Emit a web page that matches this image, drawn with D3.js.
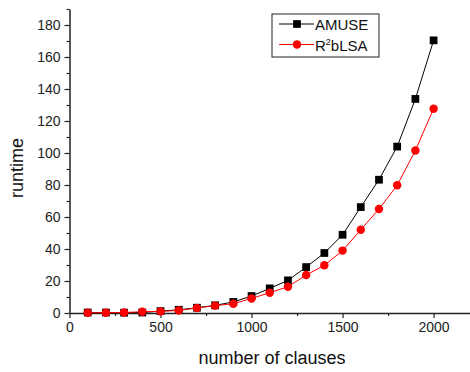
<!DOCTYPE html>
<html>
<head>
<meta charset="utf-8">
<script src="https://cdn.jsdelivr.net/npm/d3@7"></script>
<style>
  body { margin: 0; background: #fff; }
  text { font-family: "Liberation Sans", Arial, sans-serif; }
</style>
</head>
<body>
<div id="chart"></div>
<script>
// data
const clauses = [100, 200, 300, 400, 500, 600, 700, 800, 900, 1000,
                 1100, 1200, 1300, 1400, 1500, 1600, 1700, 1800, 1900, 2000];
const amuse = [0.3, 0.3, 0.2, 0.3, 1.2, 2.0, 3.3, 4.8, 6.9, 10.6,
               15.4, 20.4, 28.7, 37.5, 48.9, 66.2, 83.3, 104, 133.8, 170.4];
const r2blsa = [0.2, 0.2, 0.3, 0.8, 1.0, 1.6, 3.1, 4.6, 5.8, 9.1,
                12.7, 16.4, 23.7, 29.8, 39.0, 52.0, 65.0, 79.8, 101.6, 127.7];
const xTicks = [0, 500, 1000, 1500, 2000];
const yTicks = [0, 20, 40, 60, 80, 100, 120, 140, 160, 180];

const W = 470, H = 372;
const margin = { top: 9, right: 0, bottom: 59, left: 69.5 };
const width = W - margin.left - margin.right;
const height = H - margin.top - margin.bottom;

const svg = d3.select('#chart')
  .append('svg')
  .attr('width', W)
  .attr('height', H);

const g = svg.append('g')
  .attr('transform', `translate(${margin.left},${margin.top})`);

const x = d3.scaleLinear().domain([0, 2200]).range([0, width]);
const y = d3.scaleLinear().domain([0, 190]).range([height, 0]);

// minor ticks first, then major axes
g.append('g')
  .attr('transform', `translate(0,${height})`)
  .call(d3.axisBottom(x).tickValues(d3.range(250, 2200, 500)).tickSize(3).tickFormat(''))
  .call(a => a.select('.domain').remove());
g.append('g')
  .call(d3.axisLeft(y).tickValues(d3.range(10, 191, 20)).tickSize(3).tickFormat(''))
  .call(a => a.select('.domain').remove());

const xAxis = g.append('g')
  .attr('transform', `translate(0,${height})`)
  .call(d3.axisBottom(x).tickValues(xTicks).tickFormat(d3.format('d'))
    .tickSize(5).tickSizeOuter(0).tickPadding(4));
const yAxis = g.append('g')
  .call(d3.axisLeft(y).tickValues(yTicks).tickFormat(d3.format('d'))
    .tickSize(5).tickSizeOuter(0).tickPadding(4));

[xAxis, yAxis].forEach(a => {
  a.select('.domain').attr('stroke', '#222').attr('stroke-width', 1.5);
  a.selectAll('text').style('font-size', '14px').attr('fill', '#222')
    .style('font-family', '"Liberation Sans", Arial, sans-serif');
});
g.selectAll('.tick line').attr('stroke', '#222').attr('stroke-width', 1.2);

// series
const series = [
  { name: 'AMUSE', values: amuse, color: '#000000', shape: 'square' },
  { name: 'R2bLSA', values: r2blsa, color: '#ff0000', shape: 'circle' }
];

const line = d3.line()
  .x((d, i) => x(clauses[i]))
  .y(d => y(d));

series.forEach(s => {
  g.append('path')
    .datum(s.values)
    .attr('fill', 'none')
    .attr('stroke', s.color)
    .attr('stroke-width', 1)
    .attr('d', line);
});

series.forEach(s => {
  const sym = d3.symbol()
    .type(s.shape === 'square' ? d3.symbolSquare : d3.symbolCircle)
    .size(s.shape === 'square' ? 60 : 56);
  g.selectAll(null)
    .data(s.values)
    .enter()
    .append('path')
    .attr('transform', (d, i) => `translate(${x(clauses[i])},${y(d)})`)
    .attr('d', sym)
    .attr('fill', s.color);
});

// axis titles
svg.append('text')
  .attr('x', 272)
  .attr('y', 364)
  .attr('text-anchor', 'middle')
  .style('font-size', '18px')
  .attr('fill', '#111')
  .text('number of clauses');

svg.append('text')
  .attr('transform', 'translate(23,168) rotate(-90)')
  .attr('text-anchor', 'middle')
  .style('font-size', '18px')
  .attr('fill', '#111')
  .text('runtime');

// legend
const legend = svg.append('g').attr('transform', 'translate(272,14)');
legend.append('rect')
  .attr('width', 107)
  .attr('height', 43)
  .attr('fill', '#fff')
  .attr('stroke', '#222')
  .attr('stroke-width', 1);

series.forEach((s, i) => {
  const row = legend.append('g').attr('transform', `translate(0,${10 + i * 20.5})`);
  row.append('line')
    .attr('x1', 7).attr('x2', 42)
    .attr('stroke', s.color).attr('stroke-width', 1);
  row.append('path')
    .attr('transform', 'translate(25,0)')
    .attr('d', d3.symbol()
      .type(s.shape === 'square' ? d3.symbolSquare : d3.symbolCircle)
      .size(s.shape === 'square' ? 60 : 56))
    .attr('fill', s.color);
  const t = row.append('text')
    .attr('x', 43)
    .attr('y', 6)
    .style('font-size', '15px')
    .attr('fill', '#111');
  if (s.name === 'R2bLSA') {
    t.append('tspan').text('R');
    t.append('tspan').attr('dy', -6).style('font-size', '9px').text('2');
    t.append('tspan').attr('dy', 6).text('bLSA');
  } else {
    t.text(s.name);
  }
});
</script>
</body>
</html>
